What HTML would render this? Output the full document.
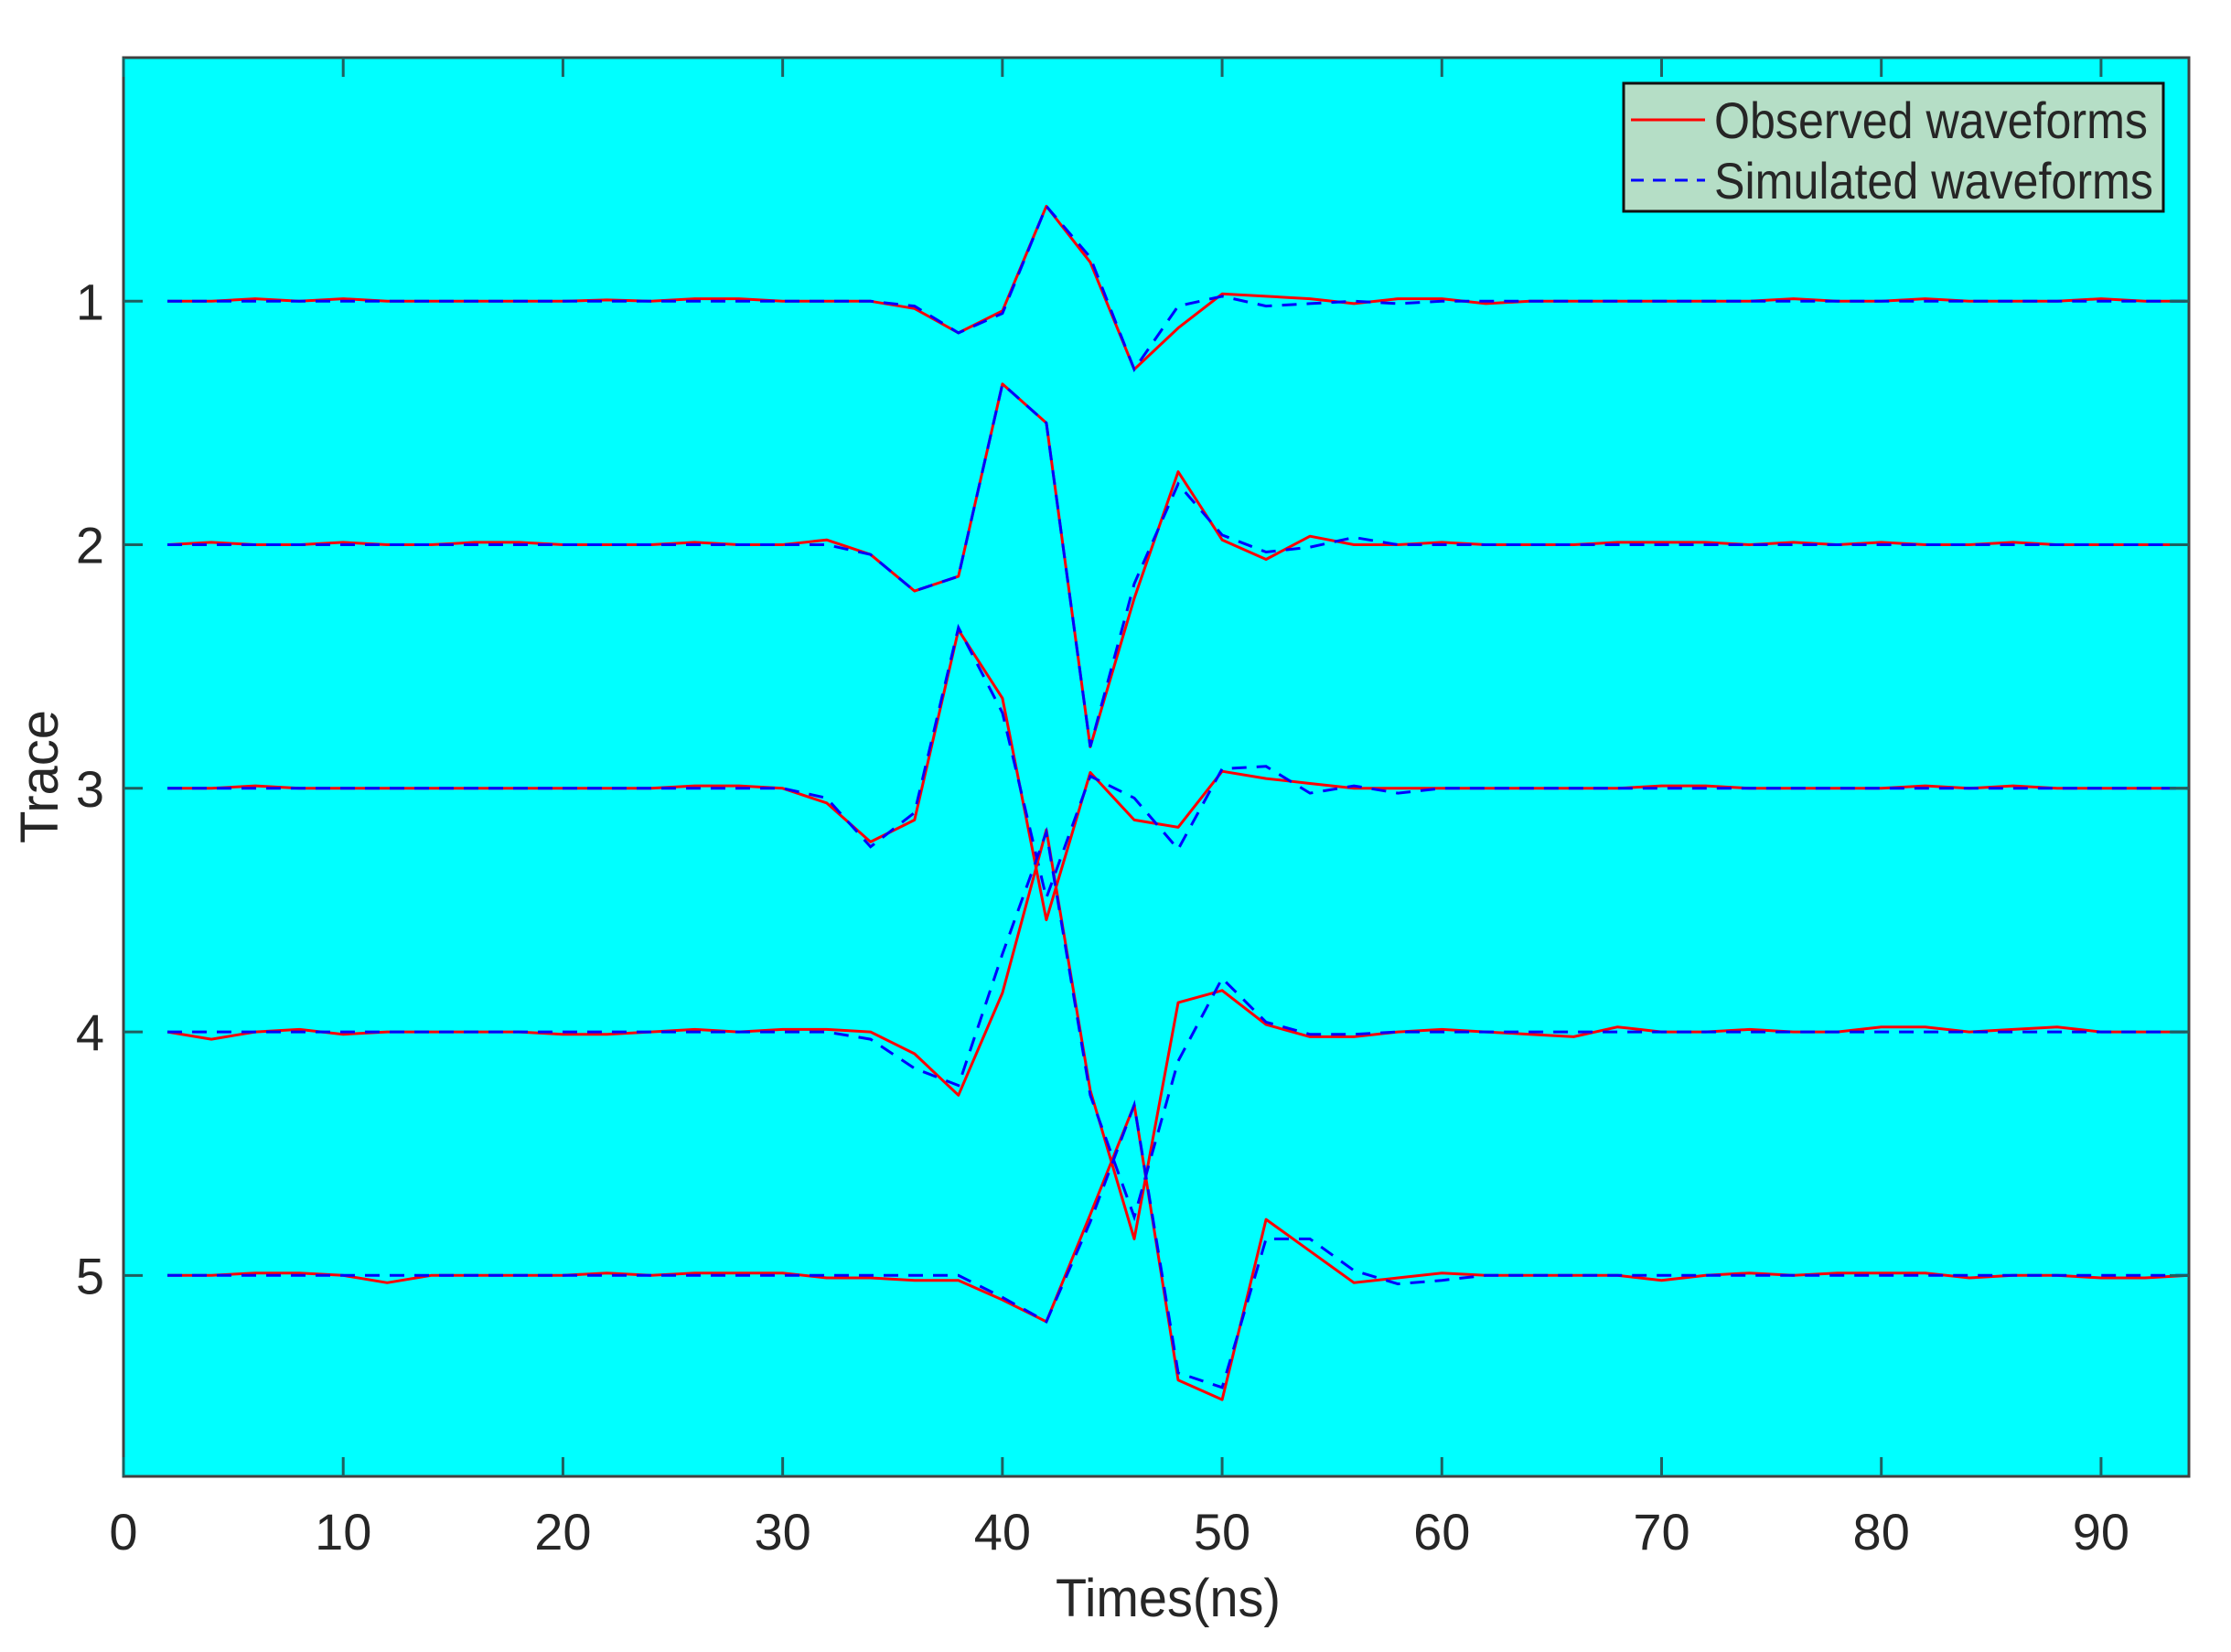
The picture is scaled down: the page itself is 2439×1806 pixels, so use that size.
<!DOCTYPE html>
<html><head><meta charset="utf-8"><style>
html,body{margin:0;padding:0;background:#fff;}
svg{display:block;}
text{font-family:"Liberation Sans",sans-serif;fill:#262626;}
</style></head><body>
<svg id="chart" width="2439" height="1806" viewBox="0 0 2439 1806" xmlns="http://www.w3.org/2000/svg">
<rect x="135" y="63" width="2258" height="1551" fill="#00FFFF"/>
<g id="marks"></g>
<g id="axes"></g>
<g>
<rect x="1775" y="91" width="590" height="140" fill="#B5DEC6" stroke="#111" stroke-width="3"/>
<line x1="1783" y1="131" x2="1864" y2="131" stroke="#FF0000" stroke-width="3"/>
<text x="1874" y="151" font-size="56" textLength="474" lengthAdjust="spacingAndGlyphs">Observed waveforms</text>
<line x1="1783" y1="197" x2="1864" y2="197" stroke="#0000FF" stroke-width="3" stroke-dasharray="14,10"/>
<text x="1874" y="217" font-size="56" textLength="480" lengthAdjust="spacingAndGlyphs">Simulated waveforms</text>
</g>
<text x="1277" y="1783" font-size="58" text-anchor="middle" textLength="246" lengthAdjust="spacingAndGlyphs" transform="translate(0,-16)">Times(ns)</text>
<text x="0" y="0" font-size="58" text-anchor="middle" transform="translate(63,849) rotate(-90)">Trace</text>
</svg>
<script>
const times = [2,4,6,8,10,12,14,16,18,20,22,24,26,28,30,32,34,36,38,40,42,44,46,48,50,52,54,56,58,60,62,64,66,68,70,72,74,76,78,80,82,84,86,88,90,92,94];
const traceIds = [1,2,3,4,5];
const obs1 = [0,0,-0.01,0,-0.01,0,0,0,0,0,-0.005,0,-0.01,-0.01,0,0,0,0.03,0.13,0.04,-0.39,-0.16,0.28,0.11,-0.03,-0.02,-0.01,0.01,-0.01,-0.01,0.01,0,0,0,0,0,0,-0.01,0,0,-0.01,0,0,0,-0.01,0,0];
const sim1 = [0,0,0,0,0,0,0,0,0,0,0,0,0,0,0,0,0,0.02,0.13,0.05,-0.39,-0.18,0.28,0.02,-0.02,0.02,0.01,0,0.01,0,0,0,0,0,0,0,0,0,0,0,0,0,0,0,0,0,0];
const obs2 = [0,-0.01,0,0,-0.01,0,0,-0.01,-0.01,0,0,0,-0.01,0,0,-0.02,0.04,0.19,0.13,-0.66,-0.5,0.83,0.22,-0.3,-0.02,0.06,-0.035,0,0,-0.01,0,0,0,-0.01,-0.01,-0.01,0,-0.01,0,-0.01,0,0,-0.01,0,0,0,0];
const sim2 = [0,0,0,0,0,0,0,0,0,0,0,0,0,0,0,0,0.04,0.19,0.13,-0.66,-0.5,0.83,0.16,-0.25,-0.04,0.03,0.01,-0.03,0,0,0,0,0,0,0,0,0,0,0,0,0,0,0,0,0,0,0];
const obs3 = [0,0,-0.01,0,0,0,0,0,0,0,0,0,-0.01,-0.01,0,0.06,0.22,0.13,-0.65,-0.37,0.54,-0.065,0.13,0.16,-0.07,-0.04,-0.02,0,0,0,0,0,0,0,-0.01,-0.01,0,0,0,0,-0.01,0,-0.01,0,0,0,0];
const sim3 = [0,0,0,0,0,0,0,0,0,0,0,0,0,0,0,0.04,0.24,0.1,-0.66,-0.31,0.45,-0.05,0.04,0.25,-0.08,-0.09,0.02,-0.01,0.02,0,0,0,0,0,0,0,0,0,0,0,0,0,0,0,0,0,0];
const obs4 = [0,0.03,0,-0.01,0.01,0,0,0,0,0.01,0.01,0,-0.01,0,-0.01,-0.01,0,0.09,0.26,-0.16,-0.83,0.24,0.85,-0.12,-0.17,-0.03,0.02,0.02,0,-0.01,0,0.01,0.02,-0.02,0,0,-0.01,0,0,-0.02,-0.02,0,-0.01,-0.02,0,0,0];
const sim4 = [0,0,0,0,0,0,0,0,0,0,0,0,0,0,0,0,0.03,0.15,0.22,-0.32,-0.82,0.26,0.76,0.12,-0.22,-0.04,0.01,0.01,0,0,0,0,0,0,0,0,0,0,0,0,0,0,0,0,0,0,0];
const obs5 = [0,0,-0.01,-0.01,0,0.03,0,0,0,0,-0.01,0,-0.01,-0.01,-0.01,0.01,0.01,0.02,0.02,0.1,0.19,-0.25,-0.7,0.43,0.51,-0.23,-0.1,0.03,0.01,-0.01,0,0,0,0,0.02,0,-0.01,0,-0.01,-0.01,-0.01,0.01,0,0,0.01,0.01,0];
const sim5 = [0,0,0,0,0,0,0,0,0,0,0,0,0,0,0,0,0,0,0,0.09,0.19,-0.22,-0.7,0.4,0.46,-0.15,-0.15,-0.02,0.035,0.02,0,0,0,0,0,0,0,0,0,0,0,0,0,0,0,0,0];
const observed = [obs1,obs2,obs3,obs4,obs5];
const simulated = [sim1,sim2,sim3,sim4,sim5];
const xTicks = [0,10,20,30,40,50,60,70,80,90];
const yTicks = [1,2,3,4,5];

const L=135,R=2393,T=63,B=1614,XMAX=94,YMAX=5.825;
function xs(t){return L+t/XMAX*(R-L);}
function ys(v){return T+v/YMAX*(B-T);}
const NS="http://www.w3.org/2000/svg";
const marks=document.getElementById('marks');
const axes=document.getElementById('axes');
function mk(tag,attrs,parent){const e=document.createElementNS(NS,tag);for(const k in attrs)e.setAttribute(k,attrs[k]);parent.appendChild(e);return e;}

traceIds.forEach((id,i)=>{
  const pO=times.map((t,j)=>xs(t).toFixed(1)+','+ys(id+observed[i][j]).toFixed(1)).join(' ');
  const o=mk('polyline',{points:pO,fill:'none',stroke:'#FF0000','stroke-width':3,'stroke-linejoin':'round'},marks);
  
  
  const pS=times.map((t,j)=>xs(t).toFixed(1)+','+ys(id+simulated[i][j]).toFixed(1)).join(' ');
  const s=mk('polyline',{points:pS,fill:'none',stroke:'#0000FF','stroke-width':3,'stroke-dasharray':'16,11'},marks);
  
  
});

const box=mk('rect',{x:L,y:T,width:R-L,height:B-T,fill:'none',stroke:'#404040','stroke-width':3},axes);


xTicks.forEach(v=>{
  const x=xs(v);
  const t1=mk('line',{x1:x,y1:B,x2:x,y2:B-21,stroke:'#1f5f5f','stroke-width':3},axes);
  
  
  mk('line',{x1:x,y1:T,x2:x,y2:T+21,stroke:'#1f5f5f','stroke-width':3},axes);
  const lb=mk('text',{x:x,y:1694,'font-size':56,'text-anchor':'middle'},axes);
  lb.textContent=v;
  
  
});
yTicks.forEach(v=>{
  const y=ys(v);
  const t1=mk('line',{x1:L,y1:y,x2:L+21,y2:y,stroke:'#1f5f5f','stroke-width':3},axes);
  
  
  mk('line',{x1:R,y1:y,x2:R-21,y2:y,stroke:'#1f5f5f','stroke-width':3},axes);
  const lb=mk('text',{x:114,y:y+20,'font-size':56,'text-anchor':'end'},axes);
  lb.textContent=v;
  
  
});
</script>
</body></html>
